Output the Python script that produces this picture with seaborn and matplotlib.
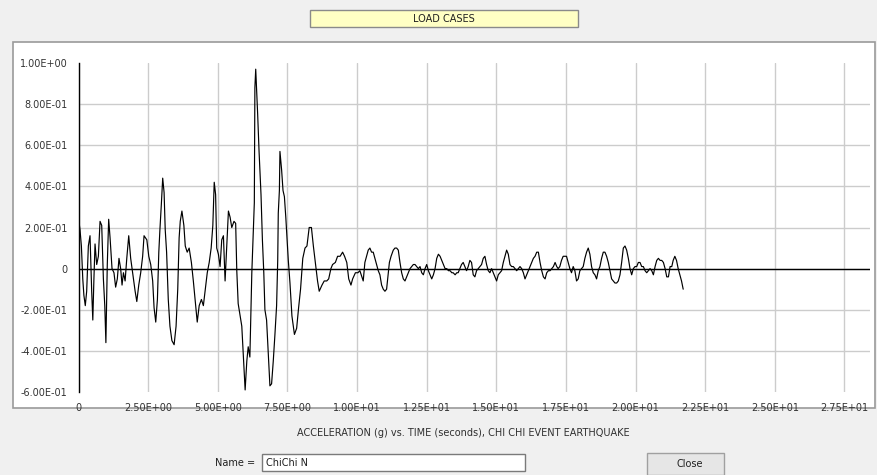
import numpy as np
import pandas as pd
import seaborn as sns
import matplotlib
matplotlib.use("Agg")
import matplotlib.pyplot as plt
from matplotlib.patches import Rectangle

# ---------------- data ----------------
time_s = [
    0.00, 0.05, 0.10, 0.15, 0.19, 0.24, 0.29, 0.35, 0.41, 0.47, 0.51, 0.55, 0.59, 0.65, 0.71, 0.77,
    0.83, 0.89, 0.94, 0.98, 1.03, 1.08, 1.13, 1.20, 1.27, 1.33, 1.39, 1.45, 1.51, 1.56, 1.61, 1.67,
    1.73, 1.80, 1.87, 1.94, 2.03, 2.09, 2.16, 2.23, 2.30, 2.35, 2.45, 2.52, 2.59, 2.66, 2.71, 2.77,
    2.83, 2.88, 2.92, 2.97, 3.02, 3.07, 3.11, 3.16, 3.22, 3.28, 3.35, 3.43, 3.50, 3.56, 3.61, 3.65,
    3.71, 3.78, 3.83, 3.90, 3.97, 4.05, 4.12, 4.19, 4.26, 4.33, 4.41, 4.48, 4.55, 4.62, 4.69, 4.76,
    4.82, 4.87, 4.92, 4.96, 5.02, 5.08, 5.14, 5.20, 5.26, 5.32, 5.38, 5.44, 5.50, 5.58, 5.64, 5.68,
    5.73, 5.80, 5.86, 5.91, 5.98, 6.04, 6.09, 6.15, 6.22, 6.31, 6.33, 6.36, 6.39, 6.43, 6.48, 6.55,
    6.60, 6.65, 6.69, 6.75, 6.81, 6.87, 6.93, 6.99, 7.05, 7.11, 7.15, 7.17, 7.21, 7.23, 7.29, 7.34,
    7.39, 7.44, 7.48, 7.53, 7.59, 7.66, 7.75, 7.83, 7.90, 7.97, 8.05, 8.13, 8.20, 8.28, 8.36, 8.43,
    8.50, 8.58, 8.64, 8.74, 8.82, 8.91, 8.98, 9.06, 9.12, 9.22, 9.30, 9.39, 9.48, 9.55, 9.63, 9.70,
    9.78, 9.84, 9.94, 10.03, 10.10, 10.17, 10.22, 10.28, 10.34, 10.40, 10.46, 10.52, 10.58, 10.64,
    10.70, 10.76, 10.82, 10.88, 10.94, 11.00, 11.06, 11.10, 11.12, 11.16, 11.22, 11.30, 11.36, 11.42,
    11.48, 11.54, 11.60, 11.66, 11.72, 11.78, 11.84, 11.90, 11.96, 12.02, 12.08, 12.14, 12.20, 12.26,
    12.32, 12.38, 12.44, 12.50, 12.56, 12.62, 12.68, 12.74, 12.80, 12.86, 12.92, 12.98, 13.04, 13.10,
    13.16, 13.22, 13.28, 13.34, 13.40, 13.45, 13.52, 13.58, 13.63, 13.69, 13.75, 13.81, 13.87, 13.93,
    13.99, 14.05, 14.11, 14.17, 14.23, 14.29, 14.35, 14.41, 14.47, 14.53, 14.59, 14.65, 14.71, 14.77,
    14.83, 14.89, 14.95, 15.01, 15.07, 15.13, 15.19, 15.25, 15.31, 15.37, 15.43, 15.49, 15.55, 15.61,
    15.67, 15.73, 15.79, 15.85, 15.91, 15.97, 16.03, 16.09, 16.15, 16.21, 16.27, 16.33, 16.39, 16.45,
    16.51, 16.57, 16.63, 16.69, 16.75, 16.81, 16.87, 16.93, 16.99, 17.05, 17.11, 17.17, 17.22, 17.28,
    17.34, 17.40, 17.46, 17.52, 17.58, 17.64, 17.70, 17.76, 17.82, 17.88, 17.94, 18.00, 18.06, 18.12,
    18.18, 18.24, 18.30, 18.36, 18.42, 18.48, 18.54, 18.60, 18.66, 18.72, 18.78, 18.84, 18.90, 18.96,
    19.02, 19.08, 19.14, 19.20, 19.26, 19.32, 19.38, 19.44, 19.50, 19.56, 19.62, 19.68, 19.74, 19.80,
    19.86, 19.92, 19.98, 20.04, 20.10, 20.16, 20.22, 20.28, 20.34, 20.40, 20.46, 20.52, 20.58, 20.64,
    20.70, 20.76, 20.82, 20.88, 20.94, 21.00, 21.06, 21.12, 21.18, 21.24, 21.30, 21.35, 21.41, 21.47,
    21.53, 21.59, 21.65, 21.71,
]
accel_g = [
    0.24, 0.19, 0.11, -0.05, -0.13, -0.18, -0.11, 0.11, 0.16, -0.11, -0.25, -0.05, 0.12, 0.02, 0.06, 0.23,
    0.21, -0.05, -0.18, -0.36, 0.02, 0.24, 0.15, 0.00, -0.02, -0.09, -0.05, 0.05, 0.00, -0.08, -0.02, -0.06,
    0.05, 0.16, 0.05, -0.02, -0.11, -0.16, -0.08, -0.02, 0.06, 0.16, 0.14, 0.06, 0.02, -0.06, -0.19, -0.26,
    -0.15, 0.08, 0.19, 0.31, 0.44, 0.37, 0.19, 0.08, -0.15, -0.28, -0.35, -0.37, -0.28, -0.10, 0.15, 0.23,
    0.28, 0.21, 0.11, 0.08, 0.10, 0.03, -0.06, -0.16, -0.26, -0.18, -0.15, -0.18, -0.10, -0.02, 0.03, 0.10,
    0.21, 0.42, 0.36, 0.10, 0.07, 0.01, 0.14, 0.16, -0.06, 0.11, 0.28, 0.25, 0.20, 0.23, 0.22, -0.01,
    -0.17, -0.23, -0.28, -0.41, -0.59, -0.45, -0.38, -0.43, -0.02, 0.32, 0.88, 0.97, 0.88, 0.75, 0.57, 0.36,
    0.14, -0.02, -0.20, -0.25, -0.41, -0.57, -0.56, -0.45, -0.32, -0.18, 0.04, 0.27, 0.38, 0.57, 0.48, 0.38,
    0.35, 0.25, 0.16, 0.04, -0.07, -0.23, -0.32, -0.29, -0.19, -0.10, 0.05, 0.10, 0.11, 0.20, 0.20, 0.11,
    0.03, -0.06, -0.11, -0.08, -0.06, -0.06, -0.05, 0.00, 0.02, 0.03, 0.06, 0.06, 0.08, 0.06, 0.03, -0.05,
    -0.08, -0.05, -0.02, -0.02, -0.01, -0.04, -0.06, 0.03, 0.06, 0.09, 0.10, 0.08, 0.08, 0.05,
    0.02, -0.01, -0.03, -0.08, -0.10, -0.11, -0.10, -0.05, -0.02, 0.03, 0.06, 0.09, 0.10, 0.10,
    0.09, 0.03, -0.02, -0.05, -0.06, -0.04, -0.02, 0.00, 0.01, 0.02, 0.02, 0.01, 0.00, 0.01,
    -0.02, -0.03, 0.00, 0.02, -0.01, -0.03, -0.05, -0.03, 0.00, 0.05, 0.07, 0.06, 0.04, 0.02,
    0.00, 0.00, -0.01, -0.01, -0.02, -0.02, -0.03, -0.02, -0.02, 0.00, 0.02, 0.03, 0.01, -0.01,
    0.01, 0.04, 0.03, -0.03, -0.04, -0.01, 0.00, 0.01, 0.02, 0.05, 0.06, 0.02, -0.01, -0.02,
    0.00, -0.02, -0.04, -0.06, -0.03, -0.02, -0.01, 0.03, 0.06, 0.09, 0.07, 0.02, 0.01, 0.01,
    0.00, -0.01, 0.00, 0.01, 0.00, -0.02, -0.05, -0.03, -0.01, 0.01, 0.03, 0.05, 0.06, 0.08,
    0.08, 0.03, -0.01, -0.04, -0.05, -0.02, -0.01, -0.01, 0.00, 0.01, 0.03, 0.01, 0.00, 0.01,
    0.04, 0.06, 0.06, 0.06, 0.03, 0.00, -0.02, 0.01, -0.01, -0.06, -0.05, -0.01, 0.00, 0.01,
    0.05, 0.08, 0.10, 0.07, 0.01, -0.02, -0.03, -0.05, -0.01, 0.01, 0.05, 0.08, 0.08, 0.06,
    0.03, -0.01, -0.05, -0.06, -0.07, -0.07, -0.06, -0.03, 0.03, 0.10, 0.11, 0.09, 0.05, 0.00,
    -0.03, 0.00, 0.01, 0.01, 0.03, 0.03, 0.01, 0.01, -0.01, -0.02, -0.01, 0.00, -0.01, -0.03,
    0.01, 0.04, 0.05, 0.04, 0.04, 0.03, 0.00, -0.04, -0.04, 0.01, 0.01, 0.04, 0.06, 0.04,
    0.00, -0.03, -0.06, -0.10,
]

y_ticks = [-0.6, -0.4, -0.2, 0.0, 0.2, 0.4, 0.6, 0.8, 1.0]
y_tick_labels = ["-6.00E-01", "-4.00E-01", "-2.00E-01", "0", "2.00E-01",
                 "4.00E-01", "6.00E-01", "8.00E-01", "1.00E+00"]
x_ticks = [0, 2.5, 5.0, 7.5, 10.0, 12.5, 15.0, 17.5, 20.0, 22.5, 25.0, 27.5]
x_tick_labels = ["0", "2.50E+00", "5.00E+00", "7.50E+00", "1.00E+01", "1.25E+01",
                 "1.50E+01", "1.75E+01", "2.00E+01", "2.25E+01", "2.50E+01", "2.75E+01"]

header_text = "LOAD CASES"
axis_title = "ACCELERATION (g) vs. TIME (seconds), CHI CHI EVENT EARTHQUAKE"
name_label = "Name ="
name_value = "ChiChi N"
button_text = "Close"

# ---------------- figure ----------------
sns.set_theme(style="white")
plt.rcParams['font.family'] = ['DejaVu Sans']

W, H = 877, 475
fig = plt.figure(figsize=(W / 100, H / 100), dpi=100, facecolor="#f0f0f0")


def fx(px):
    return px / W


def fy(py):
    return 1 - py / H


def rect(x0, y0, x1, y1, **kw):
    r = Rectangle((fx(x0), fy(y1)), fx(x1) - fx(x0), fy(y0) - fy(y1),
                  transform=fig.transFigure, zorder=-10, **kw)
    fig.patches.append(r)
    return r


# header strip with yellow box
rect(310, 10, 578, 27, facecolor="#ffffc4", edgecolor="#8a8a8a", lw=1.0)
fig.text(fx(444), fy(18.5), header_text, ha="center", va="center", fontsize=7, color="#202020")

# white chart panel
rect(13, 42, 875, 408, facecolor="white", edgecolor="#9a9a9a", lw=1.2)

# axes
ax = fig.add_axes([fx(78.6), fy(392), fx(869.5) - fx(78.6), fy(63) - fy(392)])
ax.set_zorder(5)
ax.set_facecolor("white")
df = pd.DataFrame({"time": time_s, "accel": accel_g})
sns.lineplot(data=df, x="time", y="accel", ax=ax, color="black", lw=0.85, sort=False,
             estimator=None, zorder=3)
ax.set_xlim(0, 28.4)
ax.set_ylim(-0.6, 1.0)
ax.set_xticks(x_ticks)
ax.set_xticklabels(x_tick_labels)
ax.set_yticks(y_ticks)
ax.set_yticklabels(y_tick_labels)
ax.grid(True, color="#cccccc", lw=1.0)
ax.set_axisbelow(True)
# no horizontal grid line at the top and bottom limits
ygl = ax.yaxis.get_gridlines()
ygl[0].set_visible(False)
ygl[-1].set_visible(False)
ax.axhline(0, color="black", lw=1.0, zorder=2)
for s in ["top", "right", "bottom"]:
    ax.spines[s].set_visible(False)
ax.spines["left"].set_color("black")
ax.spines["left"].set_linewidth(1.0)
ax.tick_params(axis="both", length=0, labelsize=7, labelcolor="#333333")
ax.tick_params(axis="y", pad=8)
ax.tick_params(axis="x", pad=8)
ax.set_xlabel("")
ax.set_ylabel("")

# bottom dialog controls
fig.text(fx(463), fy(433), axis_title, ha="center", va="center", fontsize=7, color="#303030")
fig.text(fx(255), fy(462.5), name_label, ha="right", va="center", fontsize=7, color="#202020")
rect(262, 454, 525, 471, facecolor="white", edgecolor="#7a7a7a", lw=1.0)
fig.text(fx(266), fy(462.5), name_value, ha="left", va="center", fontsize=7, color="#202020")
rect(647, 453, 724, 475, facecolor="#e6e6e6", edgecolor="#a0a0a0", lw=1.0)
fig.text(fx(690), fy(464), button_text, ha="center", va="center", fontsize=7, color="#202020")

fig.savefig("out.png", dpi=100, facecolor=fig.get_facecolor())
